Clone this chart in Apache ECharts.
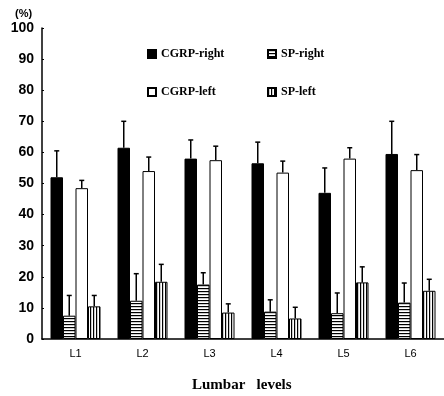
<!DOCTYPE html>
<html>
<head>
<meta charset="utf-8">
<script src="https://cdn.jsdelivr.net/npm/echarts@6/dist/echarts.min.js"></script>
<style>html,body{margin:0;padding:0;background:#fff}#c{width:444px;height:396px}</style>
</head>
<body>
<div id="c"></div>
<script>
const categories = ['L1', 'L2', 'L3', 'L4', 'L5', 'L6'];
const seriesNames = ['CGRP-right', 'SP-right', 'CGRP-left', 'SP-left'];
const cgrpRight = [52, 61.5, 58, 56.5, 47, 59.5];
const cgrpRightErr = [60.5, 70, 64, 63.3, 55, 70];
const spRight = [7.5, 12.3, 17.5, 8.8, 8.3, 11.7];
const spRightErr = [14, 21, 21.3, 12.6, 14.8, 18];
const cgrpLeft = [48.5, 54, 57.5, 53.5, 58, 54.3];
const cgrpLeftErr = [51, 58.5, 62, 57.2, 61.5, 59.3];
const spLeft = [10.5, 18.4, 8.5, 6.6, 18.2, 15.5];
const spLeftErr = [14, 24, 11.3, 10.2, 23.2, 19.2];
const yTicks = [0, 10, 20, 30, 40, 50, 60, 70, 80, 90, 100];

function stripe(horizontal) {
  const c = document.createElement('canvas');
  c.width = 3; c.height = 3;
  const ctx = c.getContext('2d');
  ctx.fillStyle = '#fff'; ctx.fillRect(0, 0, 3, 3);
  ctx.fillStyle = '#000';
  if (horizontal) ctx.fillRect(0, 0, 3, 1.2); else ctx.fillRect(0, 0, 1.2, 3);
  return { image: c, repeat: 'repeat' };
}

const values = [cgrpRight, spRight, cgrpLeft, spLeft];
const errs = [cgrpRightErr, spRightErr, cgrpLeftErr, spLeftErr];
const fills = ['#000', stripe(true), '#fff', stripe(false)];
const BW = 12.5;

const errData = [];
values.forEach((arr, s) => arr.forEach((v, i) => errData.push([i, v, errs[s][i], s])));

const chart = echarts.init(document.getElementById('c'), null, { renderer: 'canvas' });
const bars = seriesNames.map((n, s) => ({
  name: n, type: 'bar', data: values[s], barWidth: BW, barGap: '0%',
  itemStyle: { color: fills[s], borderColor: '#000', borderWidth: 1 },
  emphasis: { disabled: true }, animation: false
}));
const legendText = { fontFamily: 'Liberation Serif', fontWeight: 'bold', fontSize: 12, color: '#000' };
chart.setOption({
  animation: false,
  grid: { left: 42, right: 0, top: 28, bottom: 57 },
  legend: [
    { data: ['CGRP-right', 'CGRP-left'], left: 142, top: 43, orient: 'vertical', itemGap: 26,
      itemWidth: 8, itemHeight: 8, icon: 'rect', textStyle: legendText },
    { data: ['SP-right', 'SP-left'], left: 262, top: 43, orient: 'vertical', itemGap: 26,
      itemWidth: 8, itemHeight: 8, icon: 'rect', textStyle: legendText }
  ],
  xAxis: {
    type: 'category', data: categories,
    axisLine: { lineStyle: { color: '#000', width: 1.5 } },
    axisTick: { show: false },
    axisLabel: { color: '#000', fontSize: 11, fontFamily: 'Liberation Sans', margin: 9 }
  },
  yAxis: {
    type: 'value', min: 0, max: 100, interval: 10,
    axisLine: { show: true, lineStyle: { color: '#000', width: 1.5 } },
    axisTick: { show: true, inside: true, length: 2, lineStyle: { color: '#000' } },
    splitLine: { show: false },
    axisLabel: { color: '#000', fontSize: 14, fontWeight: 'bold', fontFamily: 'Liberation Sans', margin: 8,
      formatter: v => yTicks.includes(v) ? String(v) : '' }
  },
  graphic: [
    { type: 'text', left: 15, top: 8, style: { text: '(%)', fontSize: 11, fontWeight: 'bold', fontFamily: 'Liberation Sans', fill: '#000' } },
    { type: 'text', left: 192, top: 378, style: { text: 'Lumbar   levels', fontSize: 15, fontWeight: 'bold', fontFamily: 'Liberation Serif', fill: '#000' } }
  ],
  series: bars.concat([{
    type: 'custom', data: errData, silent: true, z: 1,
    renderItem: function (params, api) {
      const cat = api.value(0);
      const c = api.coord([cat, 0]);
      const x = c[0] + (api.value(3) - 1.5) * BW;
      const yb = api.coord([cat, api.value(1)])[1];
      const yt = api.coord([cat, api.value(2)])[1];
      const st = { stroke: '#000', lineWidth: 1.5 };
      return { type: 'group', children: [
        { type: 'line', shape: { x1: x, y1: yb, x2: x, y2: yt }, style: st },
        { type: 'line', shape: { x1: x - 2.5, y1: yt, x2: x + 2.5, y2: yt }, style: st }
      ] };
    }
  }])
});
</script>
</body>
</html>
